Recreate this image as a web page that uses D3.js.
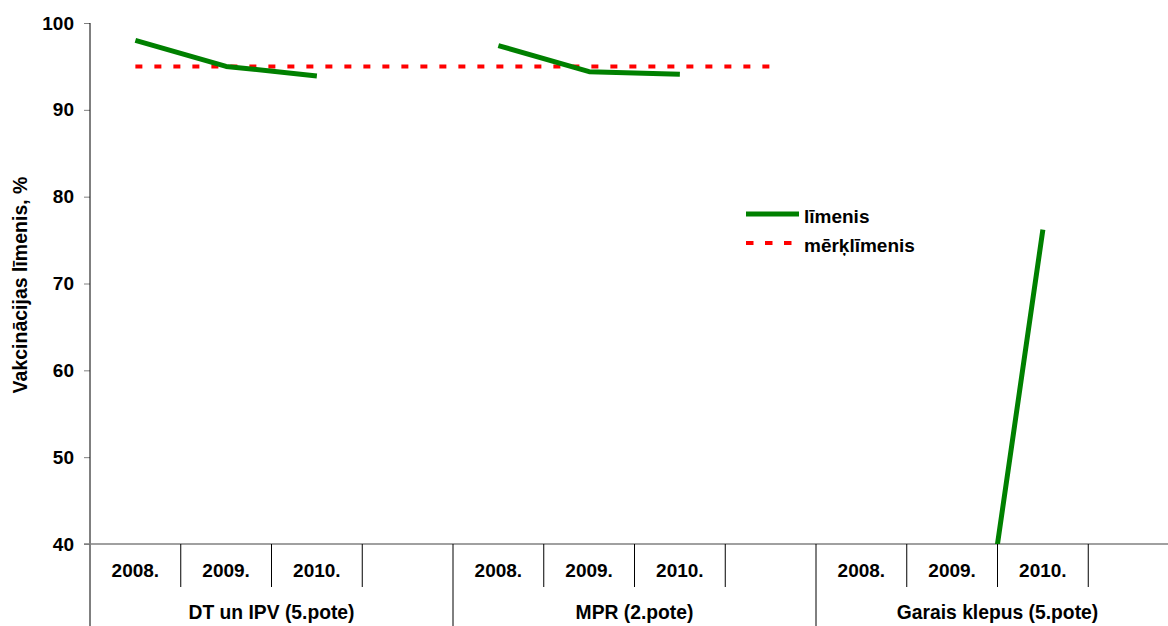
<!DOCTYPE html>
<html>
<head>
<meta charset="utf-8">
<script src="https://cdn.jsdelivr.net/npm/d3@7"></script>
<style>
  html, body { margin: 0; padding: 0; background: #fff; }
  svg { display: block; font-family: "Liberation Sans", Arial, sans-serif; font-weight: bold; }
</style>
</head>
<body>
<svg id="chart" width="1168" height="626"></svg>
<script>
// ---- data ----
const groups = ["DT un IPV (5.pote)", "MPR (2.pote)", "Garais klepus (5.pote)"];
const years = ["2008.", "2009.", "2010.", ""];
const limenis = [98.0, 95.0, 93.9, null, 97.4, 94.4, 94.1, null, null, 3.8, 76.2, null];
const merklimenis = [95, 95, 95, 95, 95, 95, 95, 95, null, null, null, null];
const yTicks = [40, 50, 60, 70, 80, 90, 100];
const seriesNames = ["līmenis", "mērķlīmenis"];
const yTitle = "Vakcinācijas līmenis, %";

// ---- layout ----
const svg = d3.select("#chart");
const mLeft = 90, mTop = 23, mBottom = 544, bandW = 90.75;
const cats = d3.range(groups.length * years.length);
const x = d3.scaleBand().domain(cats).range([mLeft, mLeft + cats.length * bandW]).padding(0);
const y = d3.scaleLinear().domain([40, 100]).range([mBottom, mTop]);

svg.append("defs").append("clipPath").attr("id", "plotclip")
  .append("rect").attr("x", mLeft).attr("y", 0).attr("width", 1168 - mLeft).attr("height", mBottom);

// y axis
const yAxis = d3.axisLeft(y).tickValues(yTicks).tickSize(6).tickPadding(10);
const yg = svg.append("g").attr("transform", `translate(${mLeft},0)`).call(yAxis);
yg.select(".domain").remove();
yg.selectAll(".tick line").attr("stroke", "#808080");
yg.selectAll(".tick text").attr("font-size", 19).attr("font-weight", "bold")
  .attr("font-family", "Liberation Sans, Arial, sans-serif").attr("fill", "#000");
svg.append("line").attr("x1", mLeft).attr("x2", mLeft).attr("y1", mTop).attr("y2", 626)
  .attr("stroke", "#000").attr("stroke-width", 1);

// x axis baseline
svg.append("line").attr("x1", mLeft - 6).attr("x2", 1168).attr("y1", mBottom).attr("y2", mBottom)
  .attr("stroke", "#808080").attr("stroke-width", 1.5);

// category separators
cats.slice(1).forEach(i => {
  const gb = i % years.length === 0;
  svg.append("line").attr("x1", x(i)).attr("x2", x(i))
    .attr("y1", mBottom).attr("y2", gb ? 626 : 587)
    .attr("stroke", "#000").attr("stroke-width", 1);
});

// year labels
svg.append("g").selectAll("text").data(cats).join("text")
  .attr("x", d => x(d) + x.bandwidth() / 2).attr("y", 577)
  .attr("text-anchor", "middle").attr("font-size", 19)
  .text(d => years[d % years.length]);

// group labels
svg.append("g").selectAll("text").data(groups).join("text")
  .attr("x", (d, i) => x(i * years.length) + x.bandwidth() * years.length / 2).attr("y", 619)
  .attr("text-anchor", "middle").attr("font-size", 19.3)
  .text(d => d);

// y title
svg.append("text").attr("transform", "translate(27,285) rotate(-90)")
  .attr("text-anchor", "middle").attr("font-size", 19.5).text(yTitle);

// lines
const line = d3.line().defined(d => d != null)
  .x((d, i) => x(i) + x.bandwidth() / 2).y(d => y(d));
const plot = svg.append("g").attr("clip-path", "url(#plotclip)");
plot.append("path").datum(merklimenis).attr("d", line)
  .attr("fill", "none").attr("stroke", "#ff0000").attr("stroke-width", 4)
  .attr("stroke-dasharray", "7,12");
plot.append("path").datum(limenis).attr("d", line)
  .attr("fill", "none").attr("stroke", "#008000").attr("stroke-width", 5)
  .attr("stroke-linejoin", "round");

// legend
const leg = svg.append("g");
const legY = [214, 243];
leg.append("line").attr("x1", 746).attr("x2", 799).attr("y1", legY[0]).attr("y2", legY[0])
  .attr("stroke", "#008000").attr("stroke-width", 5);
leg.append("line").attr("x1", 746).attr("x2", 799).attr("y1", legY[1]).attr("y2", legY[1])
  .attr("stroke", "#ff0000").attr("stroke-width", 4).attr("stroke-dasharray", "7.5,11.5");
leg.selectAll("text").data(seriesNames).join("text")
  .attr("x", 804).attr("y", (d, i) => legY[i] + 9)
  .attr("font-size", 19).text(d => d);
</script>
</body>
</html>
